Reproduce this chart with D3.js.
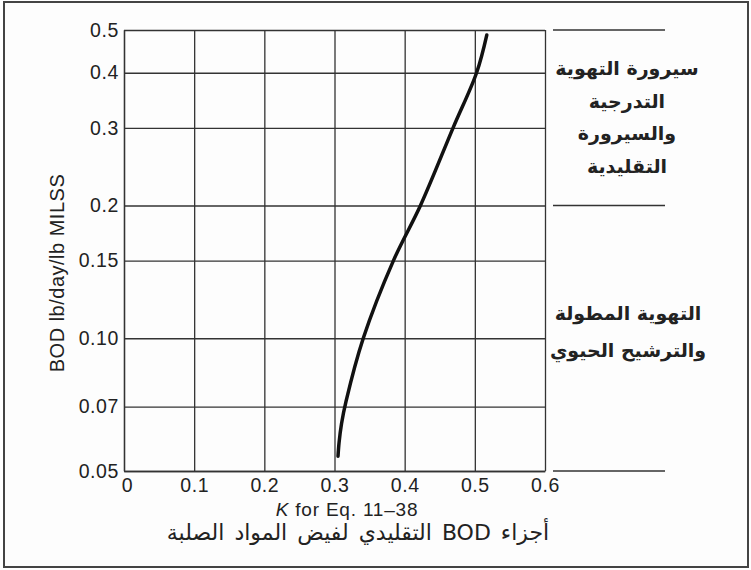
<!DOCTYPE html>
<html>
<head>
<meta charset="utf-8">
<script src="https://cdn.jsdelivr.net/npm/d3@7"></script>
<style>
  body { margin: 0; background: #fff; }
  svg { display: block; }
  .tick text { font-family: "Liberation Sans", Arial, sans-serif; font-size: 19.5px; letter-spacing: 0.6px; fill: #222; }
  .tick line { stroke: #333; stroke-width: 1.3; }
  .domain { stroke: #333; stroke-width: 1.3; }
  .ar { font-family: "DejaVu Sans", sans-serif; fill: #222; }
</style>
</head>
<body>
<svg width="751" height="570"></svg>
<script>
// curve: K vs BOD loading
const kValues   = [0.305, 0.3065, 0.310, 0.3165, 0.341, 0.384, 0.4225, 0.469, 0.5025, 0.517]
const bodValues = [0.054, 0.058,  0.064, 0.072,  0.100, 0.150, 0.200,  0.300, 0.400,  0.487]

const xTicks = [0, 0.1, 0.2, 0.3, 0.4, 0.5, 0.6]
const xTickLabels = ['0', '0.1', '0.2', '0.3', '0.4', '0.5', '0.6']
const yTicks = [0.05, 0.07, 0.10, 0.15, 0.2, 0.3, 0.4, 0.5]
const yTickLabels = ['0.05', '0.07', '0.10', '0.15', '0.2', '0.3', '0.4', '0.5']
const sideLines = [0.5, 0.2, 0.05]

const upperLabel = ['سيرورة التهوية', 'التدرجية', 'والسيرورة', 'التقليدية']
const lowerLabel = ['التهوية المطولة', 'والترشيح الحيوي']

const svg = d3.select('svg')

// outer frame
svg.append('rect')
   .attr('x', 4).attr('y', 2)
   .attr('width', 744).attr('height', 565)
   .attr('fill', '#fdfdfd')
   .attr('stroke', '#444')
   .attr('stroke-width', 2)

const xScale = d3.scaleLinear().domain([0, 0.6]).range([124, 545])
const yScale = d3.scaleLog().domain([0.05, 0.5]).range([471, 30])

const xAxis = d3.axisBottom(xScale)
                .tickValues(xTicks)
                .tickFormat((d, i) => xTickLabels[i])
                .tickSizeInner(-(471 - 30))
                .tickSizeOuter(0)
                .tickPadding(7)

const yAxis = d3.axisLeft(yScale)
                .tickValues(yTicks)
                .tickFormat((d, i) => yTickLabels[i])
                .tickSizeInner(-(545 - 124))
                .tickSizeOuter(0)
                .tickPadding(5)

const xAxisG = svg.append('g')
    .attr('transform', 'translate(0,471)')
    .call(xAxis)
xAxisG.selectAll('.tick text').attr('dx', (d, i) => i === 0 ? 3 : 0)

const yAxisG = svg.append('g')
    .attr('transform', 'translate(124,0)')
    .call(yAxis)

// short lines to the right of the grid
svg.selectAll('.side-line')
   .data(sideLines)
   .enter()
   .append('line')
   .classed('side-line', true)
   .attr('x1', 553).attr('x2', 665)
   .attr('y1', d => yScale(d)).attr('y2', d => yScale(d))
   .attr('stroke', '#333')
   .attr('stroke-width', 1.3)

// the curve
const points = kValues.map((k, i) => [k, bodValues[i]])
const line = d3.line()
    .x(d => xScale(d[0]))
    .y(d => yScale(d[1]))
    .curve(d3.curveCatmullRom)

svg.append('path')
   .datum(points)
   .attr('d', line)
   .attr('fill', 'none')
   .attr('stroke', '#111')
   .attr('stroke-width', 3.5)
   .attr('stroke-linecap', 'round')

// axis titles
svg.append('text')
   .attr('transform', 'translate(64,273) rotate(-90)')
   .attr('text-anchor', 'middle')
   .style('font-family', '"Liberation Sans", Arial, sans-serif')
   .style('font-size', '20px')
   .style('letter-spacing', '0.5px')
   .attr('fill', '#222')
   .text('BOD lb/day/lb MILSS')

const xTitle = svg.append('text')
   .attr('x', 347).attr('y', 516)
   .attr('text-anchor', 'middle')
   .style('font-family', '"Liberation Sans", Arial, sans-serif')
   .style('font-size', '19px')
   .style('letter-spacing', '0.8px')
   .attr('fill', '#222')
xTitle.append('tspan').style('font-style', 'italic').text('K')
xTitle.append('tspan').text(' for Eq. 11–38')

svg.append('text')
   .classed('ar', true)
   .attr('x', 358).attr('y', 540)
   .attr('text-anchor', 'middle')
   .attr('direction', 'rtl')
   .style('font-size', '22px')
   .style('word-spacing', '3px')
   .text('أجزاء BOD  التقليدي لفيض المواد الصلبة')

// right-side region labels
svg.selectAll('.upper')
   .data(upperLabel)
   .enter()
   .append('text')
   .classed('ar upper', true)
   .attr('x', 627)
   .attr('y', (d, i) => 75 + i * 32.5)
   .attr('text-anchor', 'middle')
   .attr('direction', 'rtl')
   .style('font-size', '19px')
   .style('font-weight', 'bold')
   .text(d => d)

svg.selectAll('.lower')
   .data(lowerLabel)
   .enter()
   .append('text')
   .classed('ar lower', true)
   .attr('x', 628)
   .attr('y', (d, i) => 320 + i * 37)
   .attr('text-anchor', 'middle')
   .attr('direction', 'rtl')
   .style('font-size', '19px')
   .style('font-weight', 'bold')
   .text(d => d)
</script>
</body>
</html>
